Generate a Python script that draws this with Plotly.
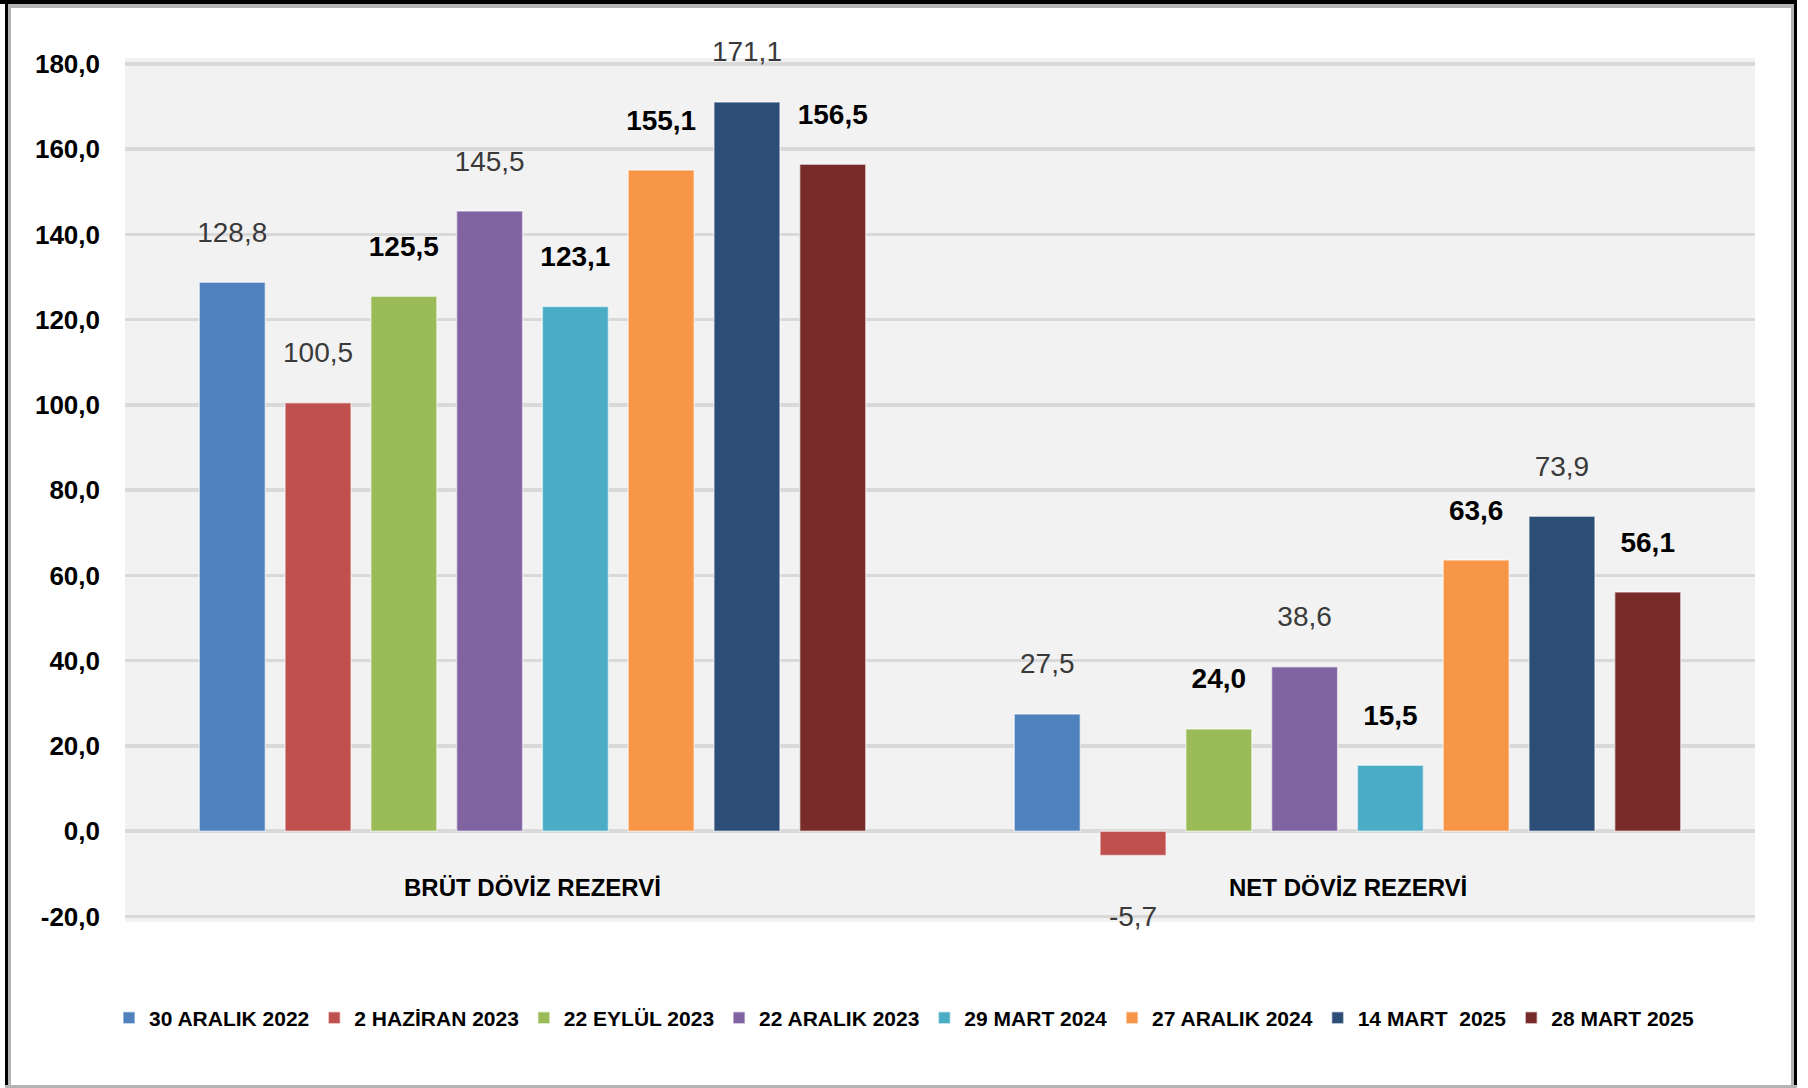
import plotly.graph_objects as go

categories = ["BRÜT DÖVİZ REZERVİ", "NET DÖVİZ REZERVİ"]
series_names = ["30 ARALIK 2022", "2 HAZİRAN 2023", "22 EYLÜL 2023", "22 ARALIK 2023",
                "29 MART 2024", "27 ARALIK 2024", "14 MART  2025", "28 MART 2025"]
brut_values = [128.8, 100.5, 125.5, 145.5, 123.1, 155.1, 171.1, 156.5]
net_values = [27.5, -5.7, 24.0, 38.6, 15.5, 63.6, 73.9, 56.1]
brut_bold = [False, False, True, False, True, True, False, True]
net_bold = [False, False, True, False, True, True, False, True]
colors = ["#4F81BD", "#C0504D", "#9BBB59", "#8064A2", "#4BACC6", "#F79646", "#2C4D75", "#772C2A"]
tick_values = [-20, 0, 20, 40, 60, 80, 100, 120, 140, 160, 180]
tick_labels = ["-20,0", "0,0", "20,0", "40,0", "60,0", "80,0", "100,0", "120,0", "140,0", "160,0", "180,0"]

FONT = "Liberation Sans, Arial, sans-serif"
W, H = 1808, 1088
ML, MR, MT, MB = 125, 53, 58, 166
BARGAP = 0.158


def fmt(v, bold):
    s = f"{v:.1f}".replace(".", ",")
    return f"<b>{s}</b>" if bold else s


fig = go.Figure()
for i, name in enumerate(series_names):
    fig.add_trace(go.Bar(
        x=categories, y=[brut_values[i], net_values[i]], name=name,
        marker=dict(color=colors[i], line=dict(color="rgba(255,255,255,0.55)", width=1.5)),
        hoverinfo="skip",
    ))

for i, name in enumerate(series_names):
    vals = [brut_values[i], net_values[i]]
    bolds = [brut_bold[i], net_bold[i]]
    fig.add_trace(go.Scatter(
        x=categories, y=vals, mode="markers+text", showlegend=False,
        text=[fmt(v, b) for v, b in zip(vals, bolds)],
        textposition=["top center" if v >= 0 else "bottom center" for v in vals],
        textfont=dict(family=FONT, size=28,
                      color=["#000000" if b else "#3A3A3A" for b in bolds]),
        marker=dict(size=[52 if v >= 0 else 78 for v in vals], color="rgba(0,0,0,0)",
                    line=dict(width=0, color="rgba(0,0,0,0)")),
        cliponaxis=False, hoverinfo="skip",
    ))


def px_x(p):
    return (p - ML) / (W - ML - MR)


def px_y(p):
    return (H - MB - p) / (H - MT - MB)


shapes = []
# outer frame
for (x0, x1, y0, y1, c) in [
    (5, 8, 0, 1088, "#000000"), (8, 11, 4, 1085, "#B4B4B4"),
    (0, 1797, 0, 4, "#000000"), (8, 1794, 4, 8, "#B4B4B4"),
    (1794, 1797, 0, 1088, "#000000"), (1791, 1794, 4, 1085, "#B4B4B4"),
    (5, 1797, 1085, 1088, "#B4B4B4"),
]:
    shapes.append(dict(type="rect", xref="paper", yref="paper", layer="above",
                       x0=px_x(x0), x1=px_x(x1), y0=px_y(y1), y1=px_y(y0),
                       fillcolor=c, line=dict(width=0)))

annotations = [dict(x=c, y=-13.3, xref="x", yref="y", text=f"<b>{c}</b>", showarrow=False,
                    font=dict(family=FONT, size=24, color="#000000"))
               for c in categories]

fig.update_layout(
    width=W, height=H,
    margin=dict(l=ML, r=MR, t=MT, b=MB),
    paper_bgcolor="#FFFFFF", plot_bgcolor="#F2F2F2",
    barmode="group", bargap=BARGAP, bargroupgap=0.23,
    scattermode="group", scattergap=BARGAP,
    showlegend=True,
    legend=dict(orientation="h", xref="container", yref="container",
                x=0.5, xanchor="center", y=1 - 1018 / H, yanchor="middle",
                font=dict(family=FONT, size=21, color="#000000", weight="bold"),
                itemwidth=30, traceorder="normal", bgcolor="rgba(0,0,0,0)"),
    xaxis=dict(showticklabels=False, showgrid=False, zeroline=False, showline=False,
               ticks=""),
    yaxis=dict(range=[-21.3, 181.4], tickvals=tick_values, ticktext=tick_labels,
               showgrid=True, gridcolor="#D9D9D9", gridwidth=3.5, zeroline=False,
               showline=False, ticks="", ticklabelstandoff=24,
               tickfont=dict(family=FONT, size=26, color="#000000", weight="bold")),
    shapes=shapes,
    annotations=annotations,
)

fig.write_html("out.html", config={"displayModeBar": False, "staticPlot": True},
               post_script="document.body.style.margin='0';document.body.style.overflow='hidden';")
